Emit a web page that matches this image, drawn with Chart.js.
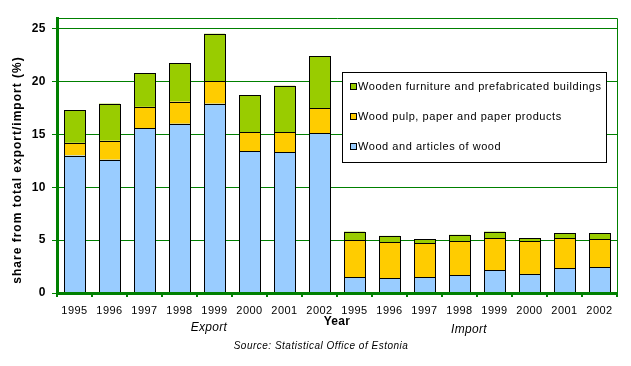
<!DOCTYPE html>
<html>
<head>
<meta charset="utf-8">
<script src="https://cdn.jsdelivr.net/npm/chart.js@4/dist/chart.umd.min.js"></script>
<style>
  body { margin: 0; background: #fff; }
  #wrap { width: 631px; height: 366px; }
</style>
</head>
<body>
<div id="wrap"><canvas id="chart" width="631" height="366"></canvas></div>
<script>
// years shown twice: export group then import group
let years = ['1995', '1996', '1997', '1998', '1999', '2000', '2001', '2002'];
let labels = years.concat(years);

// segment values (% of total export / import)
let woodArticles = [13.0, 12.6, 15.6, 16.0, 17.9, 13.4, 13.3, 15.1,
                    1.5, 1.4, 1.5, 1.7, 2.15, 1.8, 2.35, 2.45];
let pulpPaper = [1.2, 1.8, 2.0, 2.1, 2.1, 1.8, 1.9, 2.4,
                 3.5, 3.4, 3.2, 3.2, 3.05, 3.1, 2.85, 2.65];
let furniture = [3.1, 3.5, 3.2, 3.6, 4.5, 3.5, 4.4, 4.9,
                 0.8, 0.6, 0.4, 0.6, 0.6, 0.3, 0.45, 0.55];

let yTicks = [0, 5, 10, 15, 20, 25];

const GREEN = '#008000';
const FONT = '"Liberation Sans", Arial, sans-serif';

// slightly spaced-out text everywhere, like the original rendering
let spacing = {
    id: 'spacing',
    beforeDraw: (chart) => {
        chart.ctx.letterSpacing = '0.5px';
    }
};

// crisp black outlines round every bar segment, snapped to pixels
let outlines = {
    id: 'outlines',
    afterDatasetsDraw: (chart) => {
        let ctx = chart.ctx;
        ctx.save();
        ctx.strokeStyle = '#000';
        ctx.lineWidth = 1;
        chart.data.datasets.forEach((ds, i) => {
            chart.getDatasetMeta(i).data.forEach(bar => {
                let left = Math.round(bar.x - bar.width / 2);
                let right = Math.round(bar.x + bar.width / 2);
                let top = Math.round(bar.y);
                let bottom = Math.round(bar.base);
                ctx.strokeRect(left + 0.5, top + 0.5, right - left, bottom - top);
            });
        });
        ctx.restore();
    }
};

let extras = {
    id: 'extras',
    afterDraw: (chart) => {
        let ctx = chart.ctx;
        let area = chart.chartArea;
        ctx.save();

        // top and right frame
        ctx.strokeStyle = GREEN;
        ctx.lineWidth = 1;
        ctx.beginPath();
        ctx.moveTo(area.left, area.top + 0.5);
        ctx.lineTo(area.right + 0.5, area.top + 0.5);
        ctx.lineTo(area.right + 0.5, area.bottom);
        ctx.stroke();

        // legend box
        let lx = 342, ly = 72, lw = 264, lh = 90;
        ctx.fillStyle = '#fff';
        ctx.fillRect(lx, ly, lw, lh);
        ctx.strokeStyle = '#000';
        ctx.strokeRect(lx + 0.5, ly + 0.5, lw, lh);
        ctx.font = '11px ' + FONT;
        ctx.letterSpacing = '0.55px';
        ctx.textBaseline = 'middle';
        let sets = chart.data.datasets.slice().reverse();
        sets.forEach((ds, i) => {
            let y = 87 + i * 30;
            ctx.fillStyle = ds.backgroundColor;
            ctx.fillRect(350, y - 4, 7, 7);
            ctx.strokeStyle = '#000';
            ctx.strokeRect(350.5, y - 3.5, 6, 6);
            ctx.fillStyle = '#000';
            ctx.fillText(ds.label, 358, y);
        });

        // axis titles and notes
        ctx.fillStyle = '#000';
        ctx.textAlign = 'center';
        ctx.letterSpacing = '0.3px';
        ctx.font = 'bold 12px ' + FONT;
        ctx.fillText('Year', 337, 322);
        ctx.font = 'italic 12px ' + FONT;
        ctx.fillText('Export', 209, 328);
        ctx.fillText('Import', 469, 330);
        ctx.font = 'italic 10px ' + FONT;
        ctx.letterSpacing = '0.5px';
        ctx.fillText('Source: Statistical Office of Estonia', 321, 346);

        ctx.translate(18, 170);
        ctx.rotate(-Math.PI / 2);
        ctx.font = 'bold 12px ' + FONT;
        ctx.letterSpacing = '1px';
        ctx.fillText('share from total export/import (%)', 0, 0);
        ctx.restore();
    }
};

new Chart(document.getElementById('chart').getContext('2d'), {
    type: 'bar',
    data: {
        labels: labels,
        datasets: [{
            label: 'Wood and articles of wood',
            data: woodArticles,
            backgroundColor: '#99CCFF'
        }, {
            label: 'Wood pulp, paper and paper products',
            data: pulpPaper,
            backgroundColor: '#FFCC00'
        }, {
            label: 'Wooden furniture and prefabricated buildings',
            data: furniture,
            backgroundColor: '#99CC00'
        }]
    },
    options: {
        responsive: false,
        animation: false,
        layout: {
            padding: { left: 0, right: 14, top: 18, bottom: 0 }
        },
        datasets: {
            bar: {
                borderWidth: 0,
                inflateAmount: 0,
                barPercentage: 0.6,
                categoryPercentage: 1
            }
        },
        scales: {
            x: {
                stacked: true,
                afterFit: (scale) => { scale.height = 73; },
                grid: {
                    offset: true,
                    drawOnChartArea: false,
                    color: GREEN,
                    lineWidth: 2,
                    tickLength: 4
                },
                border: { color: GREEN, width: 3, z: 1 },
                ticks: {
                    color: '#000',
                    padding: 7,
                    maxRotation: 0,
                    autoSkip: false,
                    font: { family: FONT, size: 11 }
                }
            },
            y: {
                stacked: true,
                min: 0,
                max: 26,
                afterFit: (scale) => { scale.width = 57; },
                afterBuildTicks: (scale) => {
                    scale.ticks = yTicks.map(v => ({ value: v }));
                },
                grid: {
                    color: GREEN,
                    lineWidth: 1,
                    tickLength: 5
                },
                border: { color: GREEN, width: 3 },
                ticks: {
                    color: '#000',
                    padding: 6,
                    font: { family: FONT, size: 12, weight: 'bold' }
                }
            }
        },
        plugins: {
            legend: { display: false },
            tooltip: { enabled: false }
        }
    },
    plugins: [spacing, outlines, extras]
});
</script>
</body>
</html>
